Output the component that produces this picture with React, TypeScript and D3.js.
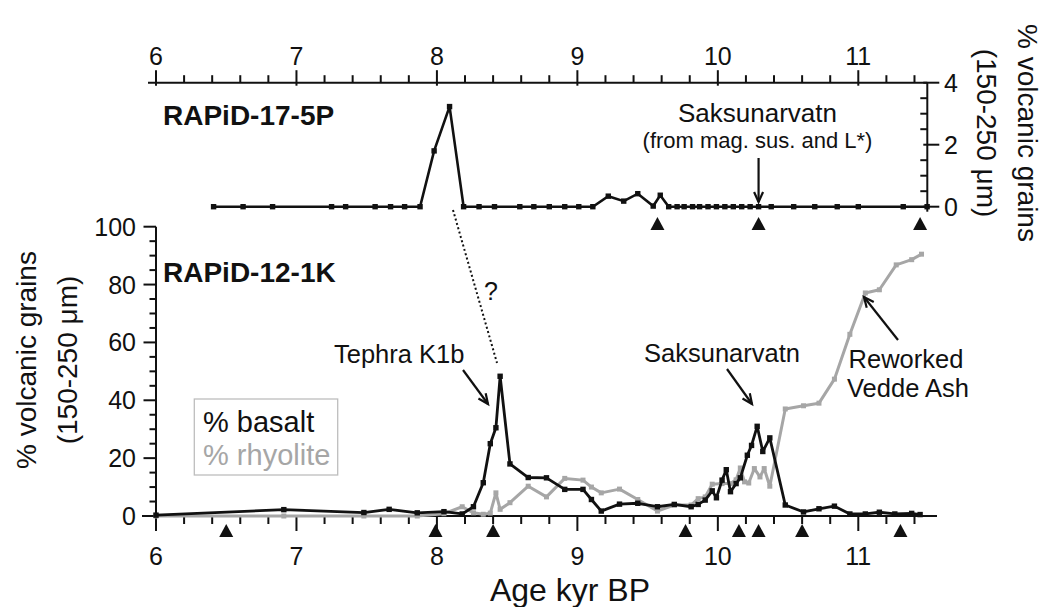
import React from "react";
import * as d3 from "d3";

// RAPiD-17-5P (upper panel): age (kyr BP) and % volcanic grains
const topAge = [6.41, 6.62, 6.83, 7.25, 7.35, 7.56, 7.67, 7.77, 7.88, 7.98, 8.09, 8.19, 8.3, 8.41, 8.59, 8.69, 8.8, 8.91, 9.01, 9.11, 9.22, 9.33, 9.43, 9.54, 9.59, 9.65, 9.71, 9.76, 9.82, 9.87, 9.93, 9.99, 10.05, 10.11, 10.17, 10.23, 10.29, 10.38, 10.54, 10.69, 10.85, 11.0, 11.32, 11.49];
const topVal = [0, 0, 0, 0, 0, 0, 0, 0, 0, 1.8, 3.23, 0, 0, 0, 0, 0, 0, 0, 0, 0, 0.34, 0.18, 0.42, 0.02, 0.37, 0, 0, 0, 0, 0, 0, 0, 0, 0, 0, 0, 0, 0, 0, 0, 0, 0, 0, 0];

// RAPiD-12-1K (lower panel): % basalt
const basaltAge = [6.0, 6.91, 7.48, 7.66, 7.86, 8.05, 8.18, 8.26, 8.33, 8.38, 8.42, 8.45, 8.52, 8.65, 8.78, 8.91, 9.04, 9.1, 9.17, 9.3, 9.43, 9.57, 9.69, 9.81, 9.86, 9.91, 9.96, 9.99, 10.03, 10.06, 10.09, 10.13, 10.16, 10.21, 10.24, 10.28, 10.32, 10.37, 10.48, 10.61, 10.72, 10.83, 10.94, 11.05, 11.15, 11.26, 11.38, 11.44];
const basalt = [0.3, 2.2, 1.2, 2.3, 1.1, 1.5, 0.7, 3.2, 11.5, 25, 30.5, 48.3, 18, 13.3, 13.2, 9.2, 9.2, 5.7, 1.7, 4.1, 4.4, 3.2, 4, 3.2, 4, 5.5, 8.7, 6.3, 12.4, 16, 8.4, 11.2, 13.2, 21, 24.4, 31, 22.3, 27, 3.8, 1.4, 2.5, 3.4, 0.7, 0.7, 1.3, 0.7, 0.9, 0.5];

// RAPiD-12-1K: % rhyolite
const rhyAge = [6.0, 6.91, 7.48, 7.86, 8.05, 8.18, 8.26, 8.33, 8.38, 8.42, 8.45, 8.52, 8.65, 8.78, 8.91, 9.04, 9.1, 9.17, 9.3, 9.43, 9.57, 9.69, 9.81, 9.86, 9.91, 9.96, 10.03, 10.09, 10.13, 10.16, 10.19, 10.22, 10.26, 10.3, 10.33, 10.37, 10.48, 10.61, 10.72, 10.83, 10.94, 11.05, 11.15, 11.27, 11.38, 11.45];
const rhyolite = [0, 0, 0, 0, 0.8, 3.2, 1.1, 0.6, 1, 8, 2.3, 4.6, 10.3, 6.6, 13, 12.4, 10, 8, 9.3, 5.7, 1.7, 3.8, 3.8, 6, 6.6, 11, 11.2, 11.2, 12.5, 16.6, 11.8, 11.4, 16.4, 13.5, 16.4, 10.3, 37, 38.1, 39, 47.3, 62.8, 77.1, 78.2, 86.8, 88.6, 90.5];

// Age-model tie points (triangles)
const topTies = [9.57, 10.29, 11.44];
const bottomTies = [6.5, 7.99, 8.4, 9.77, 10.15, 10.29, 10.6, 11.3];

const ageTicks = [6, 7, 8, 9, 10, 11];
const leftTicks = [0, 20, 40, 60, 80, 100];
const rightTicks = [0, 2, 4];

const FONT = "'Liberation Sans', Arial, sans-serif";
const GRAY = "#a6a6a6";

const x = d3.scaleLinear().domain([6, 11]).range([156, 858.3]);
const yTop = d3.scaleLinear().domain([0, 4]).range([206.7, 82.7]);
const yBot = d3.scaleLinear().domain([0, 100]).range([516, 226.7]);

const minorAges = d3.range(6, 11.41, 0.2).map((v) => +v.toFixed(1));

function Arrow({ x1, y1, x2, y2, head = 11 }: { x1: number; y1: number; x2: number; y2: number; head?: number }) {
  const a = Math.atan2(y2 - y1, x2 - x1);
  const s = 0.42;
  const p1 = [x2 - head * Math.cos(a - s), y2 - head * Math.sin(a - s)];
  const p2 = [x2 - head * Math.cos(a + s), y2 - head * Math.sin(a + s)];
  return (
    <g stroke="#111" strokeWidth={2.2} fill="none">
      <line x1={x1} y1={y1} x2={x2} y2={y2} />
      <polyline points={`${p1[0]},${p1[1]} ${x2},${y2} ${p2[0]},${p2[1]}`} />
    </g>
  );
}

function Triangle({ cx, top }: { cx: number; top: number }) {
  return <path d={`M${cx},${top} L${cx + 7},${top + 13} L${cx - 7},${top + 13} Z`} fill="#111" />;
}

export default function App() {
  const topLine = d3
    .line<number>()
    .x((_, i) => x(topAge[i]))
    .y((d) => yTop(d));
  const basaltLine = d3
    .line<number>()
    .x((_, i) => x(basaltAge[i]))
    .y((d) => yBot(d));
  const rhyLine = d3
    .line<number>()
    .x((_, i) => x(rhyAge[i]))
    .y((d) => yBot(d));

  const axisRight = 927.3;
  const leftMinor = d3.range(0, 101, 5);
  const rightMinor = d3.range(0, 4.01, 0.5);

  return (
    <svg
      width={1046}
      height={607}
      style={{ position: "absolute", left: 0, top: 0, background: "#fff" }}
      fontFamily={FONT}
    >
      {/* ---------- upper panel: top age axis ---------- */}
      <g stroke="#111" strokeWidth={2}>
        <line x1={148} y1={yTop(4)} x2={axisRight} y2={yTop(4)} />
        {minorAges.map((a) => {
          const major = Math.abs(a - Math.round(a)) < 1e-6;
          return (
            <line
              key={"tt" + a}
              x1={x(a)}
              x2={x(a)}
              y1={major ? yTop(4) - 12.5 : yTop(4) - 7.5}
              y2={major ? yTop(4) + 3 : yTop(4)}
            />
          );
        })}
      </g>
      {ageTicks.map((a) => (
        <text key={"tl" + a} x={x(a)} y={65} textAnchor="middle" fontSize={25} fill="#111">
          {a}
        </text>
      ))}

      {/* upper panel: right value axis */}
      <g stroke="#111" strokeWidth={2}>
        <line x1={axisRight} y1={yTop(4)} x2={axisRight} y2={yTop(0) + 5} />
        {rightMinor.map((v) => {
          const major = Math.abs(v % 2) < 1e-6;
          return (
            <line
              key={"rt" + v}
              x1={major ? axisRight - 4 : axisRight - 7}
              x2={major ? axisRight + 12 : axisRight}
              y1={yTop(v)}
              y2={yTop(v)}
            />
          );
        })}
      </g>
      {rightTicks.map((v) => (
        <text key={"rl" + v} x={944} y={yTop(v) + 9} fontSize={25} fill="#111">
          {v}
        </text>
      ))}
      <g fontSize={28} fill="#111" textAnchor="middle">
        <text transform={`translate(977,133) rotate(90)`}>(150-250 μm)</text>
        <text transform={`translate(1018,133) rotate(90)`}>% volcanic grains</text>
      </g>

      {/* upper panel: series */}
      <path d={topLine(topVal) || ""} fill="none" stroke="#111" strokeWidth={2.6} />
      {topVal.map((v, i) => (
        <rect key={"tp" + i} x={x(topAge[i]) - 2.7} y={yTop(v) - 2.7} width={5.4} height={5.4} fill="#111" />
      ))}
      {topTies.map((a) => (
        <Triangle key={"tt" + a} cx={x(a)} top={217} />
      ))}

      <text x={163} y={125} fontSize={28} fontWeight="bold" fill="#111">
        RAPiD-17-5P
      </text>
      <text x={757.5} y={121.7} textAnchor="middle" fontSize={26} fill="#111">
        Saksunarvatn
      </text>
      <text x={757.5} y={148.3} textAnchor="middle" fontSize={22} fill="#111">
        (from mag. sus. and L*)
      </text>
      <Arrow x1={x(10.29)} y1={158} x2={x(10.29)} y2={202} />

      {/* ---------- lower panel ---------- */}
      <g stroke="#111" strokeWidth={2}>
        <line x1={142} y1={yBot(0)} x2={937} y2={yBot(0)} />
        <line x1={x(6)} y1={yBot(100)} x2={x(6)} y2={yBot(0) + 15} />
        {minorAges.map((a) => {
          const major = Math.abs(a - Math.round(a)) < 1e-6;
          return <line key={"bt" + a} x1={x(a)} x2={x(a)} y1={yBot(0)} y2={yBot(0) + (major ? 15 : 8)} />;
        })}
        {leftMinor.map((v) => {
          const major = v % 20 === 0;
          return <line key={"lt" + v} x1={x(6) - (major ? 12.5 : 6.5)} x2={x(6)} y1={yBot(v)} y2={yBot(v)} />;
        })}
      </g>
      {ageTicks.map((a) => (
        <text key={"bl" + a} x={x(a)} y={565} textAnchor="middle" fontSize={25} fill="#111">
          {a}
        </text>
      ))}
      {leftTicks.map((v) => (
        <text key={"ll" + v} x={136} y={yBot(v) + 9} textAnchor="end" fontSize={25} fill="#111">
          {v}
        </text>
      ))}
      <g fontSize={28} fill="#111" textAnchor="middle">
        <text transform={`translate(36,360) rotate(-90)`}>% volcanic grains</text>
        <text transform={`translate(77,360) rotate(-90)`}>(150-250 μm)</text>
      </g>
      <text x={570} y={601} textAnchor="middle" fontSize={32} fill="#111">
        Age kyr BP
      </text>

      {/* series: rhyolite beneath basalt */}
      <path d={rhyLine(rhyolite) || ""} fill="none" stroke={GRAY} strokeWidth={3} strokeLinejoin="round" />
      {rhyolite.map((v, i) => (
        <rect key={"rp" + i} x={x(rhyAge[i]) - 2.5} y={yBot(v) - 2.5} width={5} height={5} fill={GRAY} />
      ))}
      <path d={basaltLine(basalt) || ""} fill="none" stroke="#111" strokeWidth={2.8} strokeLinejoin="round" />
      {basalt.map((v, i) => (
        <rect key={"bp" + i} x={x(basaltAge[i]) - 2.7} y={yBot(v) - 2.7} width={5.4} height={5.4} fill="#111" />
      ))}
      {bottomTies.map((a) => (
        <Triangle key={"bt" + a} cx={x(a)} top={524} />
      ))}

      {/* labels and annotations */}
      <text x={163} y={282} fontSize={28} fontWeight="bold" fill="#111">
        RAPiD-12-1K
      </text>
      <line x1={453} y1={210} x2={497} y2={363} stroke="#111" strokeWidth={2} strokeDasharray="2 2.5" />
      <text x={491} y={300} textAnchor="middle" fontSize={25} fill="#111">
        ?
      </text>
      <text x={334} y={362.7} fontSize={25.5} fill="#111">
        Tephra K1b
      </text>
      <Arrow x1={463} y1={370} x2={488} y2={404} />
      <text x={722} y={362} textAnchor="middle" fontSize={25.5} fill="#111">
        Saksunarvatn
      </text>
      <Arrow x1={727} y1={369} x2={752} y2={404} />
      <text x={906} y={368.3} textAnchor="middle" fontSize={25.5} fill="#111">
        Reworked
      </text>
      <text x={908} y={396.7} textAnchor="middle" fontSize={25.5} fill="#111">
        Vedde Ash
      </text>
      <Arrow x1={898} y1={340} x2={864} y2={297} />

      {/* legend */}
      <rect x={194.3} y={399} width={143.4} height={76} fill="#fff" stroke="#bdbdbd" strokeWidth={1.3} />
      <text x={203} y={431.7} fontSize={29} fill="#111">
        % basalt
      </text>
      <text x={203} y={465} fontSize={29} fill={GRAY}>
        % rhyolite
      </text>
    </svg>
  );
}
